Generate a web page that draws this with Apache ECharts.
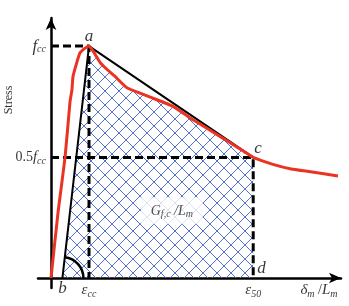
<!DOCTYPE html>
<html>
<head>
<meta charset="utf-8">
<script src="https://cdn.jsdelivr.net/npm/echarts@6/dist/echarts.min.js"></script>
<style>
  html, body { margin: 0; padding: 0; background: #fff; }
  #chart { width: 349px; height: 306px; }
</style>
</head>
<body>
<div id="chart"></div>
<script>
// measured curve: strain in units of eps_cc, stress in units of f_cc
var curveX = [0, 0.19, 0.37, 0.50, 0.55, 0.58, 0.68, 0.76, 0.89, 1.00, 1.10, 1.29, 1.47, 1.68, 2.00, 2.61, 3.21, 3.76, 4.55, 5.08, 5.32, 5.84, 6.32, 6.74, 7.55];
var curveY = [0, 0.29, 0.52, 0.76, 0.81, 0.87, 0.93, 0.97, 0.99, 1.00, 0.98, 0.93, 0.90, 0.87, 0.82, 0.78, 0.74, 0.68, 0.60, 0.545, 0.52, 0.49, 0.47, 0.46, 0.44];

// key points a, b, c, d
var pointNames = ['a', 'b', 'c', 'd'];
var pointX = [1.00, 0.30, 5.32, 5.32];
var pointY = [1.00, 0, 0.52, 0];

var fcc = 1.0, halfFcc = 0.52;
var epsCC = 1.0, eps50 = 5.32;

function pt(name) {
  var i = pointNames.indexOf(name);
  return [pointX[i], pointY[i]];
}

// hatched region b -> a -> curve -> c -> d
var hatch = [pt('b'), pt('a')];
for (var i = 0; i < curveX.length; i++) {
  if (curveX[i] > epsCC && curveX[i] < eps50) hatch.push([curveX[i], curveY[i]]);
}
hatch.push(pt('c'), pt('d'));

var curve = curveX.map(function (x, i) { return [x, curveY[i]]; });

// cross hatch pattern
var pat = document.createElement('canvas');
pat.width = 14; pat.height = 14;
var ctx = pat.getContext('2d');
ctx.strokeStyle = '#5373cc';
ctx.lineWidth = 1;
ctx.beginPath();
ctx.moveTo(0, 0); ctx.lineTo(14, 14);
ctx.moveTo(14, 0); ctx.lineTo(0, 14);
ctx.stroke();

var serif = 'Liberation Serif';
var rich = {
  it: { fontFamily: serif, fontStyle: 'italic', fontSize: 17, color: '#000' },
  m: { fontFamily: serif, fontStyle: 'italic', fontSize: 15, color: '#000' },
  rm: { fontFamily: serif, fontSize: 14, color: '#000' },
  sub: { fontFamily: serif, fontStyle: 'italic', fontSize: 10, color: '#000', padding: [7, 0, 0, 0] },
  g: { fontFamily: serif, fontStyle: 'italic', fontSize: 14, color: '#222' },
  gs: { fontFamily: serif, fontStyle: 'italic', fontSize: 10, color: '#222', padding: [6, 0, 0, 0] }
};

var labels = [
  { value: pt('a'), label: { formatter: '{it|a}', position: 'top', distance: 1 } },
  { value: pt('b'), label: { formatter: '{it|b}', position: 'bottom', distance: 2 } },
  { value: pt('c'), label: { formatter: '{it|c}', position: 'right', distance: 1, offset: [0, -9] } },
  { value: pt('d'), label: { formatter: '{it|d}', position: 'right', distance: 4, offset: [0, -9] } },
  { value: [0, fcc], label: { formatter: '{it|f}{sub|cc}', position: 'left', distance: 5 } },
  { value: [0, halfFcc], label: { formatter: '{rm|0.5}{m|f}{sub|cc}', position: 'left', distance: 5 } },
  { value: [epsCC, 0], label: { formatter: '{m|ε}{sub|cc}', position: 'bottom', distance: 4 } },
  { value: [eps50, 0], label: { formatter: '{m|ε}{sub|50}', position: 'bottom', distance: 4 } },
  { value: [7.05, 0], label: { formatter: '{m|δ}{sub|m}{rm| /}{m|L}{sub|m}', position: 'bottom', distance: 4 } },
  { value: [3.18, 0.29], label: { formatter: '{g|G}{gs|f,c}{g| /L}{gs|m}', position: 'inside',
      backgroundColor: '#fff', padding: [6, 10, 5, 10] } }
];

var chart = echarts.init(document.getElementById('chart'));
chart.setOption({
  animation: false,
  backgroundColor: '#fff',
  grid: { left: 38, right: 8, top: 18, bottom: 18 },
  xAxis: {
    type: 'value', min: -0.342, max: 7.63,
    axisLine: { onZero: true, symbol: ['none', 'arrow'], symbolSize: [8, 12], lineStyle: { color: '#000', width: 2.5 } },
    axisTick: { show: false }, axisLabel: { show: false }, splitLine: { show: false }
  },
  yAxis: {
    type: 'value', min: -0.043, max: 1.121,
    axisLine: { onZero: true, symbol: ['none', 'arrow'], symbolSize: [8, 12], lineStyle: { color: '#000', width: 2.5 } },
    axisTick: { show: false }, axisLabel: { show: false }, splitLine: { show: false }
  },
  graphic: [{
    type: 'text', x: 3, y: 100, rotation: Math.PI / 2,
    style: { text: 'Stress', font: '12px "Liberation Serif"', fill: '#333', align: 'center', verticalAlign: 'top' }
  }],
  series: [
    {
      type: 'line', data: hatch, showSymbol: false, silent: true, z: 1,
      lineStyle: { width: 0 },
      areaStyle: { color: { image: pat, repeat: 'repeat' }, opacity: 1 }
    },
    {
      type: 'line', data: [pt('b'), pt('a'), pt('c')], showSymbol: false, z: 2,
      lineStyle: { color: '#000', width: 2 }
    },
    {
      type: 'line', data: [[0, fcc], [epsCC, fcc], [epsCC, 0]], showSymbol: false, z: 3,
      lineStyle: { color: '#000', width: 3, type: [8, 4] }
    },
    {
      type: 'line', data: [[0, halfFcc], [eps50, halfFcc], [eps50, 0]], showSymbol: false, z: 3,
      lineStyle: { color: '#000', width: 3, type: [8, 4] }
    },
    {
      type: 'line', data: curve, showSymbol: false, smooth: 0.15, z: 4,
      lineStyle: { color: '#ea3323', width: 3 }
    },
    {
      type: 'custom', z: 5, data: [pt('b')],
      renderItem: function (params, api) {
        var c = api.coord([api.value(0), api.value(1)]);
        var a = api.coord(pt('a'));
        var ang = Math.atan2(a[1] - c[1], a[0] - c[0]);
        return {
          type: 'arc',
          shape: { cx: c[0], cy: c[1], r: 21, startAngle: ang, endAngle: 0 },
          style: { stroke: '#000', lineWidth: 2.5, fill: null }
        };
      }
    },
    {
      type: 'scatter', data: labels, symbolSize: 0, clip: false, z: 6,
      label: { show: true, rich: rich }
    }
  ]
});
</script>
</body>
</html>
